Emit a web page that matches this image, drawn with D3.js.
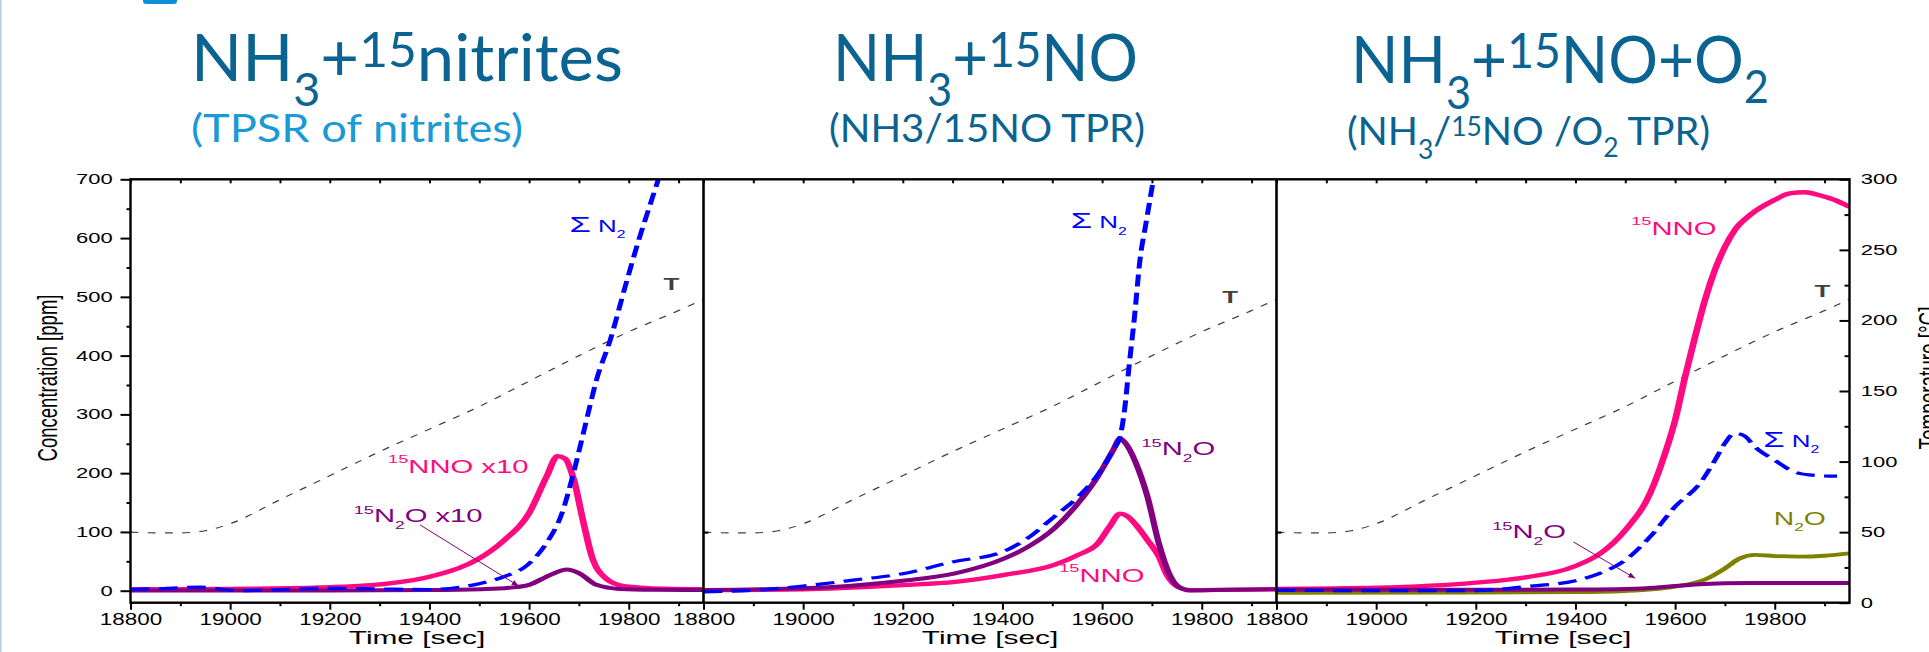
<!DOCTYPE html>
<html>
<head>
    <meta charset="utf-8">
    <title>NH3 + 15N TPR</title>
    <style>
        body { margin: 0; background: #fff; }
        svg { display: block; }
        .chart text { font-family: "Liberation Sans", Arial, sans-serif; }
        .title { font-family: Lato, "Open Sans", sans-serif; }
    </style>
</head>
<body>
    <script src="https://cdn.jsdelivr.net/npm/d3@7"></script>
    <script>
        // ---- values ----
        var timeMajor = [18800, 19000, 19200, 19400, 19600, 19800];
        var timeAll = [18800, 18900, 19000, 19100, 19200, 19300, 19400, 19500, 19600, 19700, 19800, 19900];
        var timeMinor = [18900, 19100, 19300, 19500, 19700, 19900];
        var concTicks = [0, 100, 200, 300, 400, 500, 600, 700];
        var concMinor = [50, 150, 250, 350, 450, 550, 650];
        var tempTicks = [0, 50, 100, 150, 200, 250, 300];
        var tempMinor = [25, 75, 125, 175, 225, 275];

        // temperature programme (same in the three runs), degC
        var tempTime = [18800, 18850, 18900, 18950, 19000, 19100, 19200, 19300, 19400, 19500, 19600, 19700, 19800, 19900, 19950];
        var tempVal = [50, 49.5, 49.5, 51, 56, 73, 90, 107, 123, 139, 157, 175, 192, 207, 215];

        // panel 1: NH3 + 15nitrites (ppm)
        var p1SumTime = [18800, 18870, 18940, 19020, 19100, 19200, 19300, 19400, 19460, 19500, 19550, 19597, 19634, 19666, 19689, 19712, 19735, 19763, 19791, 19818, 19846, 19875];
        var p1SumN2 = [2, 4, 6, 0, 2, 4, 3, 2, 6, 12, 24, 44, 80, 132, 200, 279, 358, 427, 512, 591, 665, 740];
        var p1NNOTime = [18800, 19000, 19180, 19320, 19410, 19500, 19550, 19600, 19635, 19657, 19672, 19690, 19708, 19726, 19754, 19790, 19870, 19950];
        var p1NNOx10 = [2.5, 3, 5.5, 12.5, 26, 55, 86, 132, 194, 229, 225, 188, 120, 58, 21, 8, 3.5, 2.5];
        var p1N2OTime = [18800, 19200, 19400, 19505, 19560, 19600, 19643, 19676, 19700, 19735, 19782, 19850, 19950];
        var p1N2Ox10 = [0.5, 0.5, 1, 2.5, 5, 10, 27, 36, 30, 10, 3, 1.5, 1];

        // panel 2: NH3 + 15NO
        var p2SumTime = [18800, 18900, 19000, 19100, 19200, 19300, 19400, 19450, 19504, 19552, 19591, 19622, 19636, 19645, 19654, 19665, 19676, 19688, 19703, 19715];
        var p2SumN2 = [-2, 1, 8, 18, 29, 49, 66, 89, 126, 160, 197, 239, 262, 307, 381, 466, 563, 625, 700, 760];
        var p2NNOTime = [18800, 19000, 19200, 19305, 19404, 19504, 19552, 19591, 19615, 19636, 19650, 19668, 19691, 19714, 19730, 19753, 19776, 19850, 19950];
        var p2NNO = [1, 2.3, 9.6, 15, 27, 44, 61, 80, 109, 131, 127, 112, 86, 58, 27, 6, 1, 1.5, 2.5];
        var p2N2OTime = [18800, 19000, 19200, 19305, 19404, 19452, 19504, 19552, 19591, 19622, 19636, 19645, 19668, 19691, 19714, 19734, 19753, 19776, 19850, 19950];
        var p2N2O = [1, 4, 17, 29.5, 55, 75, 106, 149, 194, 239, 259, 253, 217, 160, 80, 30, 7, 0.5, 1.5, 2.5];

        // panel 3: NH3 + 15NO + O2
        var p3SumTime = [18800, 19000, 19200, 19300, 19400, 19450, 19500, 19550, 19600, 19650, 19680, 19700, 19720, 19740, 19760, 19800, 19840, 19870, 19910, 19925];
        var p3SumN2 = [1, 0, 0, 7, 17, 30, 52, 92, 143, 183, 222, 251, 268, 263, 245, 222, 202, 197, 195, 195];
        var p3NNOTime = [18800, 19000, 19200, 19300, 19400, 19450, 19500, 19550, 19580, 19600, 19620, 19640, 19660, 19680, 19700, 19720, 19750, 19800, 19830, 19860, 19890, 19920, 19950];
        var p3NNO = [3, 5, 13.6, 22.7, 42, 63.5, 103, 166, 234, 290, 364, 432, 495, 546, 585, 614, 639, 665, 676, 678, 673, 665, 653];
        var p3N2OTime = [18800, 19200, 19400, 19500, 19560, 19600, 19650, 19700, 19750, 19950];
        var p3N2O15 = [1.5, 1.5, 2, 3, 5, 8, 11, 12.5, 13, 13];
        var p3N2OplainTime = [18800, 19400, 19500, 19600, 19660, 19700, 19730, 19760, 19800, 19850, 19900, 19950];
        var p3N2Oplain = [-3.5, -2.5, -0.5, 7, 19, 38, 55, 61, 59, 58, 59.5, 63.5];

        // ---- layout ----
        var width = 1929, height = 652;
        var SX = 1.57;              // the original figure is stretched sideways
        var plotTop = 179.3, plotBottom = 602.7;
        var panelLeft = [130.5, 703.5, 1276.5], panelW = 573;
        var pink = "#ff0a80", purple = "#800080", blue = "#0000ff", olive = "#808000", grey = "#404040";
        var titleColor = "#0b6391", subColor = "#1b9ad6";

        function series(times, vals) {
            return times.map(function(t, i) { return [t, vals[i]]; });
        }

        var sumN2 = [["\u03a3", 0, 22], [" N", 0, 16.5], ["2", 6.6, 10]];
        var panels = [
            {
                lines: [
                    { data: series(p1NNOTime, p1NNOx10), color: pink, w: 4.3 },
                    { data: series(p1N2OTime, p1N2Ox10), color: purple, w: 4 },
                    { data: series(p1SumTime, p1SumN2), color: blue, w: 3.2, dash: "12,6" }
                ],
                labels: [
                    { t: 19681, v: 611, color: blue, parts: sumN2 },
                    { t: 19870, v: 512, color: grey, bold: true, parts: [["T", 0, 16.5]] },
                    { t: 19317, v: 200, color: pink, parts: [["15", -9.7, 11.6], ["NNO  x10", 0, 18.6]] },
                    { t: 19248, v: 117, color: purple, parts: [["15", -8.4, 11.6], ["N", 0, 18.6], ["2", 6.6, 11], ["O x10", 0, 18.6]] }
                ],
                arrow: { from: [19381, 112], to: [19579, 8] }
            },
            {
                lines: [
                    { data: series(p2NNOTime, p2NNO), color: pink, w: 4.3 },
                    { data: series(p2N2OTime, p2N2O), color: purple, w: 4 },
                    { data: series(p2SumTime, p2SumN2), color: blue, w: 3.2, dash: "12,6" }
                ],
                labels: [
                    { t: 19537, v: 617, color: blue, parts: sumN2 },
                    { t: 19841, v: 489, color: grey, bold: true, parts: [["T", 0, 16.5]] },
                    { t: 19679, v: 231, color: purple, parts: [["15", -8.4, 11.6], ["N", 0, 18.6], ["2", 6.6, 11], ["O", 0, 18.6]] },
                    { t: 19514, v: 15, color: pink, parts: [["15", -9.7, 11.6], ["NNO", 0, 18.6]] }
                ]
            },
            {
                lines: [
                    { data: series(p3N2OplainTime, p3N2Oplain), color: olive, w: 3.8 },
                    { data: series(p3NNOTime, p3NNO), color: pink, w: 4.3 },
                    { data: series(p3N2OTime, p3N2O15), color: purple, w: 4 },
                    { data: series(p3SumTime, p3SumN2), color: blue, w: 3.2, dash: "12,6" }
                ],
                labels: [
                    { t: 19512, v: 605, color: pink, parts: [["15", -9.7, 11.6], ["NNO", 0, 18.6]] },
                    { t: 19880, v: 500, color: grey, bold: true, parts: [["T", 0, 16.5]] },
                    { t: 19777, v: 245, color: blue, parts: sumN2 },
                    { t: 19798, v: 112, color: olive, parts: [["N", 0, 18], ["2", 6.6, 11], ["O", 0, 18]] },
                    { t: 19233, v: 89, color: purple, parts: [["15", -8.4, 11.6], ["N", 0, 18.6], ["2", 6.6, 11], ["O", 0, 18.6]] }
                ],
                arrow: { from: [19396, 83], to: [19520, 21] }
            }
        ];

        var svg = d3.select("body").append("svg")
            .attr("width", width)
            .attr("height", height);

        // slide decorations
        svg.append("rect").attr("x", 0).attr("y", 0).attr("width", 1.5).attr("height", height).attr("fill", "#b7cbe8");
        svg.append("rect").attr("x", 143).attr("y", -6).attr("width", 34).attr("height", 10).attr("rx", 3).attr("fill", "#0d8fdc");

        // rich text with sub/superscripts: parts = [text, baseline offset, size]
        function rich(parent, x, y, size, color, parts) {
            var t = parent.append("text")
                .attr("x", x).attr("y", y)
                .attr("font-size", size)
                .attr("fill", color);
            var shift = 0;
            parts.forEach(function(p) {
                var s = t.append("tspan").text(p[0]);
                var want = p[1] || 0;
                if (want !== shift) {
                    s.attr("dy", want - shift);
                    shift = want;
                }
                if (p[2]) s.attr("font-size", p[2]);
            });
            return t;
        }

        // widen a text by factor k (each tspan on its own so sub/sup keep their place)
        function widen(sel, k) {
            sel.each(function() {
                var spans = d3.select(this).selectAll("tspan");
                var targets = spans.empty() ? d3.select(this) : spans;
                targets.each(function() {
                    var L = this.getComputedTextLength();
                    d3.select(this).attr("textLength", L * k).attr("lengthAdjust", "spacingAndGlyphs");
                });
            });
        }
        function fitWidth(sel, target) {
            widen(sel, target / sel.node().getComputedTextLength());
        }

        // titles
        var titles = svg.append("g").attr("class", "title");
        fitWidth(rich(titles, 191, 81, 66, titleColor, [["NH"], ["3", 25, 46], ["+", 0], ["15", -14.5, 49], ["nitrites", 0]]), 432);
        fitWidth(rich(titles, 191, 141.7, 39, subColor, [["(TPSR of nitrites)"]]), 332);
        fitWidth(rich(titles, 833, 81, 66, titleColor, [["NH"], ["3", 25, 46], ["+", 0], ["15", -14.5, 49], ["NO", 0]]), 305);
        fitWidth(rich(titles, 829, 141.7, 39, titleColor, [["(NH3/15NO TPR)"]]), 316);
        fitWidth(rich(titles, 1351, 83, 66, titleColor, [["NH"], ["3", 26, 46], ["+", 0], ["15", -15, 49], ["NO+O", 0], ["2", 20, 46]]), 418);
        fitWidth(rich(titles, 1347, 145, 39, titleColor, [["(NH"], ["3", 14, 26], ["/", 0], ["15", -9, 26], ["NO /O", 0], ["2", 12, 26], [" TPR)", 0]]), 363);

        var chart = svg.append("g").attr("class", "chart");
        // curves go in a group squeezed back by SX and stretched out again,
        // so steep strokes get the wide look of the original
        var stretched = chart.append("g").attr("transform", "scale(" + SX + ",1)");

        var defs = svg.append("defs");
        defs.append("marker")
            .attr("id", "arr")
            .attr("viewBox", "0 0 10 10")
            .attr("refX", 10).attr("refY", 5)
            .attr("markerWidth", 7).attr("markerHeight", 7)
            .attr("orient", "auto")
            .append("path")
            .attr("d", "M0,1L10,5L0,9z")
            .attr("fill", purple);

        var yConc = d3.scaleLinear().domain([-20.4, 700]).range([plotBottom, plotTop]);
        var yTemp = d3.scaleLinear().domain([0, 300]).range([plotBottom, plotTop]);

        function styleAxis(g, size, k) {
            g.attr("font-family", "Liberation Sans, Arial, sans-serif");
            g.select(".domain").remove();
            g.selectAll("line").attr("stroke", "#000").attr("stroke-width", 2);
            g.selectAll("text").attr("font-size", size).attr("fill", "#000").call(widen, k || SX);
        }

        panels.forEach(function(p, i) {
            var x0 = panelLeft[i], x1 = panelLeft[i] + panelW;
            var x = d3.scaleLinear().domain([18800, 19950]).range([x0, x1]);
            var xs = d3.scaleLinear().domain([18800, 19950]).range([x0 / SX, x1 / SX]);

            stretched.append("clipPath").attr("id", "clip" + i)
                .append("rect")
                .attr("x", x0 / SX).attr("y", plotTop)
                .attr("width", (x1 - x0) / SX).attr("height", plotBottom - plotTop);

            var plot = stretched.append("g").attr("clip-path", "url(#clip" + i + ")");

            // temperature, right-hand scale
            plot.append("path")
                .datum(series(tempTime, tempVal))
                .attr("fill", "none")
                .attr("stroke", grey)
                .attr("stroke-width", 1.1)
                .attr("stroke-dasharray", "5,6")
                .attr("d", d3.line()
                    .x(function(d) { return xs(d[0]); })
                    .y(function(d) { return yTemp(d[1]); })
                    .curve(d3.curveMonotoneX));

            var line = d3.line()
                .x(function(d) { return xs(d[0]); })
                .y(function(d) { return yConc(d[1]); })
                .curve(d3.curveMonotoneX);

            p.lines.forEach(function(l) {
                plot.append("path")
                    .datum(l.data)
                    .attr("fill", "none")
                    .attr("stroke", l.color)
                    .attr("stroke-width", l.w)
                    .attr("stroke-linejoin", "round")
                    .attr("stroke-dasharray", l.dash || null)
                    .attr("d", line);
            });

            // bottom axis
            chart.append("g")
                .attr("transform", "translate(0," + plotBottom + ")")
                .call(d3.axisBottom(x).tickValues(timeMajor).tickSize(7).tickPadding(4).tickFormat(d3.format("d")))
                .call(styleAxis, 16, 1.4);
            chart.append("g")
                .attr("transform", "translate(0," + plotBottom + ")")
                .call(d3.axisBottom(x).tickValues(timeMinor).tickSize(3.5).tickFormat(""))
                .call(styleAxis, 16);
            // small inner ticks on top
            chart.append("g")
                .attr("transform", "translate(0," + plotTop + ")")
                .call(d3.axisTop(x).tickValues(timeAll).tickSizeInner(-4).tickSizeOuter(0).tickFormat(""))
                .call(styleAxis, 16);

            chart.append("text")
                .attr("x", (x0 + x1) / 2)
                .attr("y", 644)
                .attr("text-anchor", "middle")
                .attr("font-size", 19)
                .text("Time [sec]")
                .call(widen, SX);

            // annotations
            p.labels.forEach(function(lb) {
                var t = rich(chart, x(lb.t), yConc(lb.v), 18, lb.color, lb.parts);
                if (lb.bold) t.attr("font-weight", "bold");
                widen(t, SX);
            });
            if (p.arrow) {
                chart.append("line")
                    .attr("x1", x(p.arrow.from[0])).attr("y1", yConc(p.arrow.from[1]))
                    .attr("x2", x(p.arrow.to[0])).attr("y2", yConc(p.arrow.to[1]))
                    .attr("stroke", purple)
                    .attr("stroke-width", 1)
                    .attr("marker-end", "url(#arr)");
            }

            // little 50 degC mark at each panel divider
            if (i > 0) {
                chart.append("g")
                    .attr("transform", "translate(" + x0 + ",0)")
                    .call(d3.axisRight(yTemp).tickValues([50]).tickSize(5).tickFormat(""))
                    .call(styleAxis, 14);
            }
        });

        // frame and dividers
        chart.append("rect")
            .attr("x", panelLeft[0])
            .attr("y", plotTop)
            .attr("width", 3 * panelW)
            .attr("height", plotBottom - plotTop)
            .attr("fill", "none")
            .attr("stroke", "#000")
            .attr("stroke-width", 2.4);
        [1, 2].forEach(function(i) {
            chart.append("line")
                .attr("x1", panelLeft[i]).attr("x2", panelLeft[i])
                .attr("y1", plotTop).attr("y2", plotBottom)
                .attr("stroke", "#000").attr("stroke-width", 2.6);
        });

        // left axis: concentration
        var leftX = panelLeft[0];
        chart.append("g")
            .attr("transform", "translate(" + leftX + ",0)")
            .call(d3.axisLeft(yConc).tickValues(concTicks).tickSize(10).tickPadding(7.8))
            .call(styleAxis, 14);
        chart.append("g")
            .attr("transform", "translate(" + leftX + ",0)")
            .call(d3.axisLeft(yConc).tickValues(concMinor).tickSize(4).tickFormat(""))
            .call(styleAxis, 14);
        // rotated titles: big glyphs squeezed along the line = the stretched look
        chart.append("text")
            .attr("transform", "translate(57," + 378 + ") rotate(-90)")
            .attr("text-anchor", "middle")
            .attr("font-size", 28)
            .attr("textLength", 167)
            .attr("lengthAdjust", "spacingAndGlyphs")
            .text("Concentration [ppm]");

        // right axis: temperature (last panel)
        var rightX = panelLeft[2] + panelW;
        chart.append("g")
            .attr("transform", "translate(" + rightX + ",0)")
            .call(d3.axisRight(yTemp).tickValues(tempTicks).tickSizeInner(-10).tickSizeOuter(0).tickPadding(11.2))
            .call(styleAxis, 14);
        chart.append("g")
            .attr("transform", "translate(" + rightX + ",0)")
            .call(d3.axisRight(yTemp).tickValues(tempMinor).tickSizeInner(-5).tickSizeOuter(0).tickFormat(""))
            .call(styleAxis, 14);
        chart.append("text")
            .attr("transform", "translate(1938," + 378 + ") rotate(-90)")
            .attr("text-anchor", "middle")
            .attr("font-size", 28)
            .attr("textLength", 143)
            .attr("lengthAdjust", "spacingAndGlyphs")
            .text("Temperature [\u00b0C]");
    </script>
</body>
</html>
